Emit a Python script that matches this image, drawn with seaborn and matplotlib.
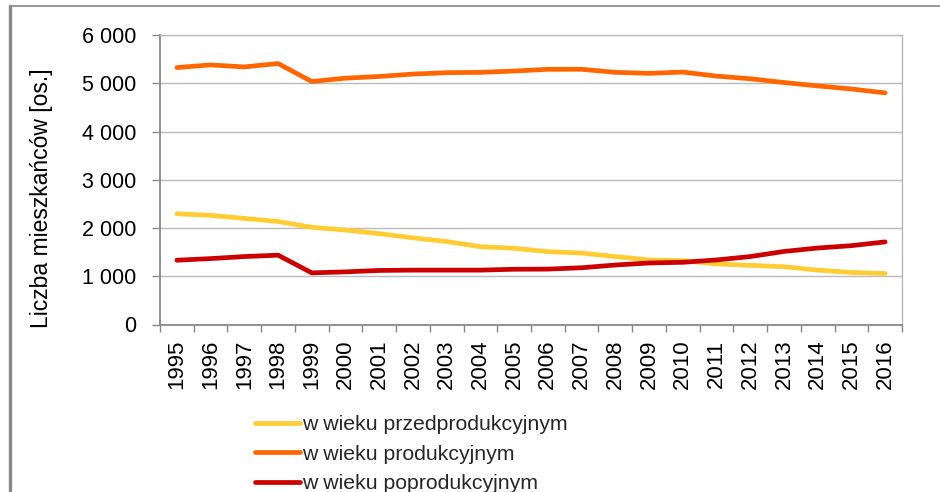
import matplotlib
matplotlib.use("Agg")
import matplotlib.pyplot as plt
from matplotlib.lines import Line2D
from matplotlib.ticker import FuncFormatter, FixedLocator
import seaborn as sns
import pandas as pd

years = list(range(1995, 2017))
series_names = ["w wieku przedprodukcyjnym", "w wieku produkcyjnym", "w wieku poprodukcyjnym"]
przed = [2296, 2262, 2199, 2135, 2015, 1958, 1882, 1797, 1719, 1613, 1580, 1510,
         1480, 1408, 1338, 1324, 1254, 1226, 1197, 1127, 1078, 1057]
prod = [5325, 5380, 5338, 5409, 5036, 5105, 5141, 5190, 5219, 5226, 5253, 5289,
        5289, 5226, 5205, 5232, 5148, 5093, 5015, 4945, 4881, 4800]
popr = [1332, 1366, 1408, 1437, 1070, 1091, 1120, 1127, 1127, 1127, 1145, 1148,
        1176, 1233, 1275, 1289, 1338, 1408, 1514, 1585, 1634, 1712]
colors = ["#FFCC33", "#FF6600", "#CC0000"]
y_ticks = [0, 1000, 2000, 3000, 4000, 5000, 6000]
y_label = "Liczba mieszkańców [os.]"

df = pd.DataFrame({
    "rok": years * 3,
    "wartosc": przed + prod + popr,
    "seria": [series_names[0]] * len(years) + [series_names[1]] * len(years) + [series_names[2]] * len(years),
})

sns.set_theme(style="white")
plt.rcParams["font.family"] = ["Liberation Sans", "DejaVu Sans"]

W, H = 940, 492
fig = plt.figure(figsize=(W / 100, H / 100), dpi=100)
fig.patch.set_facecolor("white")
ax = fig.add_axes([160 / W, 1 - 324.5 / H, (902 - 160) / W, (324.5 - 35) / H])

sns.lineplot(data=df, x="rok", y="wartosc", hue="seria", palette=colors,
             hue_order=series_names, linewidth=3.4, ax=ax, legend=False,
             solid_capstyle="round")

ax.set_xlim(years[0] - 0.5, years[-1] + 0.5)
ax.set_ylim(0, 6000)
ax.set_yticks(y_ticks)
ax.yaxis.set_major_formatter(FuncFormatter(lambda v, p: f"{int(v):,}".replace(",", " ")))
ax.set_xticks(years)
ax.set_xticklabels([str(y) for y in years], rotation=90)
ax.xaxis.set_minor_locator(FixedLocator([y - 0.5 for y in years] + [years[-1] + 0.5]))

ax.grid(axis="y", color="#BBBBBB", linewidth=1.0)
ax.set_axisbelow(True)
for s in ["left", "bottom"]:
    ax.spines[s].set_color("#888888")
    ax.spines[s].set_linewidth(1.3)
for s in ["top", "right"]:
    ax.spines[s].set_color("#BBBBBB")
    ax.spines[s].set_linewidth(1.0)

ax.tick_params(axis="y", which="major", direction="out", length=6, width=1, color="#888888",
               pad=11, labelsize=15.5, labelcolor="black", left=True)
ax.tick_params(axis="x", which="major", length=0, pad=11, labelsize=16, labelcolor="black")
ax.tick_params(axis="x", which="minor", direction="out", length=5, width=1, color="#888888", bottom=True)
ax.set_xlabel("")
ax.set_ylabel("")
fig.text(42 / W, 1 - 198 / H, y_label, rotation=90, ha="center", va="center", fontsize=16.5, color="black")

handles = [Line2D([0], [0], color=c, linewidth=3.4, solid_capstyle="round") for c in colors]
fig.legend(handles, series_names, loc="upper left", bbox_to_anchor=(255 / W, 1 - 415 / H),
           frameon=False, fontsize=15.3, handlelength=2.1, handletextpad=0.12,
           labelspacing=0.5, borderaxespad=0, borderpad=0)

# outer chart frame (cropped)
fig.add_artist(Line2D([10 / W, 1], [1 - 6 / H, 1 - 6 / H], transform=fig.transFigure, color="#888888", linewidth=1.2))
fig.add_artist(Line2D([10 / W, 10 / W], [0, 1 - 6 / H], transform=fig.transFigure, color="#888888", linewidth=2.4))

fig.savefig("out.png", dpi=100)
